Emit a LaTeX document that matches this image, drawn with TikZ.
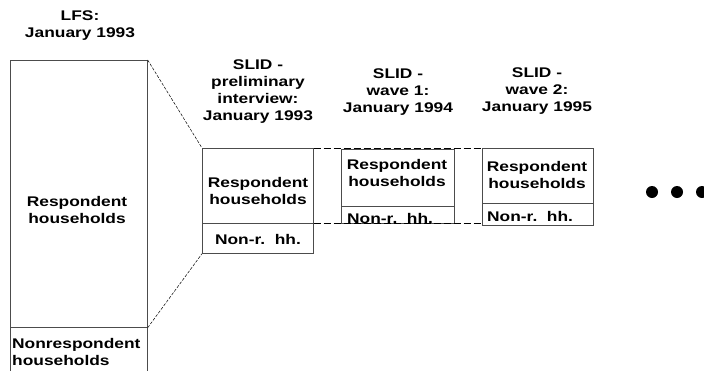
\documentclass[tikz,border=0pt]{standalone}
\usepackage{fontspec}
\newfontfamily\diagfont[FakeStretch=1.24]{Liberation Sans}
\usetikzlibrary{positioning}

\begin{document}
\begin{tikzpicture}[x=1pt, y=-1pt,
font=\diagfont\bfseries\fontsize{14}{17}\selectfont,
partbox/.style={rectangle, draw=black!70, line width=0.7pt, inner sep=0pt, anchor=north west},
boxtext/.style={align=center, inner sep=0pt},
titletext/.style={align=center, inner sep=0pt},
linkline/.style={dash pattern=on 7pt off 3pt, line width=0.7pt},
slantline/.style={dash pattern=on 3pt off 1.5pt, line width=0.5pt},
dot/.style={circle, fill=black, inner sep=0pt, minimum size=12pt},
]
\useasboundingbox (0,0) rectangle (704,370);

%Boxes
\node[partbox, minimum width=137pt, minimum height=267pt](LFS Resp) at (10,60) {};
\node[partbox, minimum width=137pt, minimum height=50pt](LFS Non) at (10,327) {};
\node[partbox, minimum width=111pt, minimum height=75pt](Pre Resp) at (202,148) {};
\node[partbox, minimum width=111pt, minimum height=30pt](Pre Non) at (202,223) {};
\node[partbox, minimum width=113pt, minimum height=57pt](W1 Resp) at (341,149) {};
\node[partbox, minimum width=113pt, minimum height=17pt](W1 Non) at (341,206) {};
\node[partbox, minimum width=111pt, minimum height=55pt](W2 Resp) at (482,148) {};
\node[partbox, minimum width=111pt, minimum height=22pt](W2 Non) at (482,203) {};

%Texts
\node[boxtext](LFS Resp Text) at (77,210) {Respondent\\households};
\node[boxtext, align=left, anchor=west](LFS Non Text) at (12,352) {Nonrespondent\\households};
\node[boxtext](Pre Resp Text) at (258,191) {Respondent\\households};
\node[boxtext](Pre Non Text) at (258,239) {Non-r.\ \ hh.};
\node[boxtext](W1 Resp Text) at (397,173) {Respondent\\households};
\node[boxtext, anchor=west](W1 Non Text) at (347,218) {Non-r.\ \ hh.};
\node[boxtext](W2 Resp Text) at (537,175) {Respondent\\households};
\node[boxtext, anchor=west](W2 Non Text) at (487,216) {Non-r.\ \ hh.};

%Titles
\node[titletext](LFS Title) at (80,26) {LFS:\\January 1993};
\node[titletext](Pre Title) at (258,92) {SLID -\\preliminary\\interview:\\January 1993};
\node[titletext](W1 Title) at (398,92) {SLID -\\wave 1:\\January 1994};
\node[titletext](W2 Title) at (537,91) {SLID -\\wave 2:\\January 1995};

%Dots
\node[dot](Dot 1) at (652,192) {};
\node[dot](Dot 2) at (677,192) {};
\node[dot](Dot 3) at (702,192) {};

%Lines
\draw[slantline] (LFS Resp.north east) -- (Pre Resp.north west);
\draw[slantline] (LFS Resp.south east) -- (Pre Non.south west);
\draw[linkline] (Pre Resp.north east) -- (W2 Resp.north west);
\draw[linkline] (Pre Resp.south east) -- (Pre Resp.south east -| W2 Non.west);

\end{tikzpicture}
\end{document}
